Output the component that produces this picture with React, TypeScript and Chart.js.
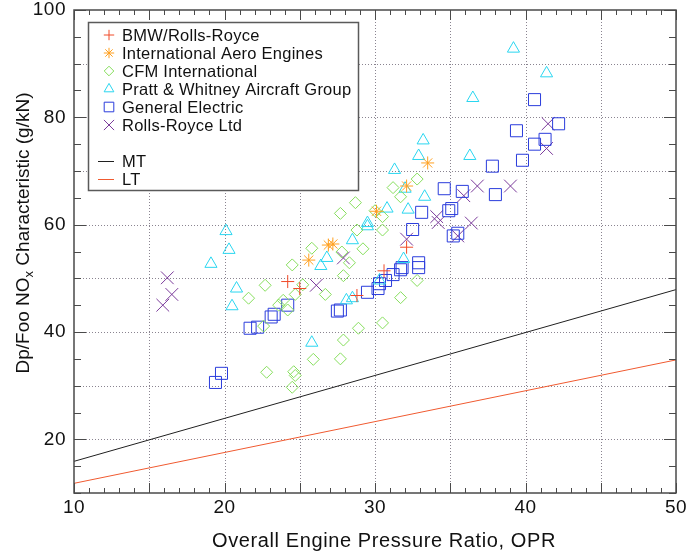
import React, { useEffect, useRef } from 'react';
import { Chart, registerables } from 'chart.js';

Chart.register(...registerables);

const FONT = '"Liberation Sans", Arial, Helvetica, sans-serif';

// ---- labels ----
const seriesNames = [
  'BMW/Rolls-Royce',
  'International Aero Engines',
  'CFM International',
  'Pratt & Whitney Aircraft Group',
  'General Electric',
  'Rolls-Royce Ltd',
];
const lineNames = ['MT', 'LT'];
const xTickLabels = ['10', '20', '30', '40', '50'];
const yTickLabels = ['20', '40', '60', '80', '100'];
const xTitle = 'Overall Engine Pressure Ratio, OPR';
const yTitleParts = ['Dp/Foo NO', 'x', ' Characteristic (g/kN)'];

// ---- data (OPR, NOx characteristic) ----
const bmwOpr = [24.2, 25.0, 28.8, 30.6, 32.1];
const bmwNox = [49.4, 48.1, 46.8, 51.4, 55.8];

const iaeOpr = [25.6, 26.9, 27.2, 30.1, 32.1, 33.5];
const iaeNox = [53.4, 56.2, 56.4, 62.5, 67.2, 71.5];

const cfmOpr = [25.8, 24.5, 22.7, 21.6, 26.7, 25.2, 24.7, 23.9, 23.6, 24.2, 22.6, 25.9, 22.8, 24.6, 24.7, 24.5,
  32.8, 31.2, 31.7, 28.7, 27.7, 30.0, 30.5, 30.5, 28.8, 27.8, 29.2, 28.3, 27.9, 31.7, 32.8, 28.9, 30.5, 27.9, 27.7];
const cfmNox = [55.6, 52.5, 48.7, 46.3, 47.0, 48.8, 47.0, 45.9, 45.0, 44.1, 41.1, 34.9, 32.5, 32.6, 31.9, 29.7,
  68.5, 66.9, 65.2, 64.1, 62.1, 62.6, 61.5, 59.0, 59.0, 54.9, 55.5, 52.9, 50.5, 46.4, 49.6, 40.7, 41.7, 38.5, 35.0];

const pwOpr = [19.1, 20.1, 20.3, 20.8, 20.5, 25.8, 26.4, 26.8, 28.5, 29.5, 29.5, 30.8, 32.2, 31.3, 32.0, 33.3,
  32.9, 33.2, 36.3, 36.5, 39.2, 41.4, 28.1, 28.5, 30.3, 31.9];
const pwNox = [52.7, 58.8, 55.3, 48.1, 44.8, 38.0, 52.3, 53.8, 57.1, 60.3, 59.7, 63.0, 62.8, 70.2, 66.7, 65.2,
  72.8, 75.7, 72.8, 83.6, 92.8, 88.2, 45.9, 46.3, 49.6, 53.6];

const geOpr = [19.4, 19.8, 21.7, 22.2, 23.1, 23.3, 24.2, 27.5, 27.7, 29.5, 30.2, 30.3, 30.7, 31.2, 31.7, 31.8,
  32.9, 32.9, 32.5, 33.1, 34.6, 34.9, 35.1, 35.2, 35.5, 35.8, 37.8, 38.0, 39.4, 39.8, 40.6, 40.6, 41.3, 42.2];
const geNox = [30.6, 32.3, 40.7, 40.9, 42.8, 43.3, 45.0, 43.9, 44.1, 47.4, 48.1, 49.0, 49.6, 50.7, 51.6, 52.0,
  52.9, 52.0, 59.1, 62.3, 66.7, 62.6, 63.0, 57.9, 58.4, 66.2, 70.9, 65.6, 77.5, 72.0, 83.3, 75.0, 75.9, 78.8];

const rrOpr = [16.2, 16.5, 15.9, 26.1, 27.9, 32.1, 34.1, 34.2, 35.5, 36.4, 35.9, 36.8, 39.0, 41.5, 41.4];
const rrNox = [50.1, 47.0, 45.0, 48.7, 53.8, 57.3, 61.5, 60.4, 57.9, 60.3, 65.4, 67.2, 67.2, 78.8, 74.2];

const lineOpr = [10, 50];
const mtNox = [15.9, 47.9];
const ltNox = [11.8, 34.8];

// ---- styles ----
const seriesColors = ['#f04a28', '#ffa020', '#86de5c', '#2ad6f0', '#2a3cdc', '#7a3a9a'];
const seriesMarkers = ['cross', 'star', 'rectRot', 'triangle', 'rect', 'crossRot'];
const seriesRadii = [6.5, 6.5, 6, 7, 8.5, 9];
const lineColors = ['#202020', '#f05a30'];

const pts = (xs: number[], ys: number[]) => xs.map((x, i) => ({ x, y: ys[i] }));

function drawMarker(ctx: CanvasRenderingContext2D, style: string, x: number, y: number, r: number) {
  ctx.beginPath();
  const d = r * Math.SQRT1_2;
  if (style === 'cross' || style === 'star') {
    ctx.moveTo(x - r, y); ctx.lineTo(x + r, y);
    ctx.moveTo(x, y - r); ctx.lineTo(x, y + r);
  }
  if (style === 'crossRot' || style === 'star') {
    ctx.moveTo(x - d, y - d); ctx.lineTo(x + d, y + d);
    ctx.moveTo(x - d, y + d); ctx.lineTo(x + d, y - d);
  }
  if (style === 'rectRot') {
    ctx.moveTo(x - r, y); ctx.lineTo(x, y - r); ctx.lineTo(x + r, y); ctx.lineTo(x, y + r); ctx.closePath();
  }
  if (style === 'rect') {
    ctx.rect(x - d, y - d, 2 * d, 2 * d);
  }
  if (style === 'triangle') {
    const a = (2 * Math.PI) / 3;
    ctx.moveTo(x, y - r);
    ctx.lineTo(x + Math.sin(a) * r, y - Math.cos(a) * r);
    ctx.lineTo(x + Math.sin(2 * a) * r, y - Math.cos(2 * a) * r);
    ctx.closePath();
  }
  ctx.stroke();
}

const setSpacing = (ctx: any, v: string) => {
  if ('letterSpacing' in ctx) ctx.letterSpacing = v;
};

const gridPlugin = {
  id: 'idlGrid',
  beforeDatasetsDraw(chart: any) {
    const { ctx, chartArea: a, scales } = chart;
    const x = scales.x, y = scales.y;
    ctx.save();
    ctx.strokeStyle = '#8a8490';
    ctx.lineWidth = 1;
    ctx.setLineDash([1, 2]);
    for (let v = 15; v < 50; v += 5) {
      const px = Math.round(x.getPixelForValue(v)) + 0.5;
      ctx.beginPath(); ctx.moveTo(px, a.top); ctx.lineTo(px, a.bottom); ctx.stroke();
    }
    for (let v = 20; v < 100; v += 10) {
      const py = Math.round(y.getPixelForValue(v)) + 0.5;
      ctx.beginPath(); ctx.moveTo(a.left, py); ctx.lineTo(a.right, py); ctx.stroke();
    }
    ctx.restore();
  },
};

const framePlugin = {
  id: 'idlFrame',
  afterDraw(chart: any) {
    const { ctx, chartArea: a, scales } = chart;
    const x = scales.x, y = scales.y;
    ctx.save();
    ctx.strokeStyle = '#4a4a4a';
    ctx.lineWidth = 1;
    const seg = (x1: number, y1: number, x2: number, y2: number) => {
      ctx.beginPath(); ctx.moveTo(x1, y1); ctx.lineTo(x2, y2); ctx.stroke();
    };
    for (let v = 10; v <= 50; v++) {
      const px = Math.round(x.getPixelForValue(v)) + 0.5;
      const len = v % 5 === 0 ? 10 : 5;
      seg(px, a.bottom, px, a.bottom - len);
      seg(px, a.top, px, a.top + len);
    }
    for (let v = 10; v <= 100; v += 5) {
      const py = Math.round(y.getPixelForValue(v)) + 0.5;
      const len = v % 20 === 0 ? 12 : 7;
      seg(a.left, py, a.left + len, py);
      seg(a.right, py, a.right - len, py);
    }
    ctx.lineWidth = 1.5;
    ctx.strokeRect(a.left, a.top, a.right - a.left, a.bottom - a.top);

    // tick labels
    ctx.fillStyle = '#111';
    ctx.font = `19px ${FONT}`;
    setSpacing(ctx, '0.5px');
    ctx.textAlign = 'center';
    ctx.textBaseline = 'middle';
    xTickLabels.forEach((t) => {
      ctx.fillText(t, x.getPixelForValue(Number(t)), a.bottom + 15);
    });
    ctx.textAlign = 'right';
    yTickLabels.forEach((t) => {
      const py = Math.max(y.getPixelForValue(Number(t)), 10);
      ctx.fillText(t, a.left - 8, py);
    });

    // axis titles
    ctx.font = `20px ${FONT}`;
    setSpacing(ctx, '0.6px');
    ctx.textAlign = 'center';
    ctx.fillText(xTitle, (a.left + a.right) / 2 + 9, a.bottom + 48);

    ctx.save();
    ctx.translate(24, 233);
    ctx.rotate(-Math.PI / 2);
    ctx.textAlign = 'left';
    setSpacing(ctx, '0px');
    const big = `19px ${FONT}`, small = `13px ${FONT}`;
    ctx.font = big; const w1 = ctx.measureText(yTitleParts[0]).width; const w3 = ctx.measureText(yTitleParts[2]).width;
    ctx.font = small; const w2 = ctx.measureText(yTitleParts[1]).width;
    let cx = -(w1 + w2 + w3) / 2;
    ctx.font = big; ctx.fillText(yTitleParts[0], cx, 0); cx += w1;
    ctx.font = small; ctx.fillText(yTitleParts[1], cx, 5); cx += w2;
    ctx.font = big; ctx.fillText(yTitleParts[2], cx, 0);
    ctx.restore();

    // legend
    const lx = 88.5, ly = 22.5, lw = 270, lh = 168;
    ctx.fillStyle = '#fff';
    ctx.fillRect(lx, ly, lw, lh);
    ctx.lineWidth = 1.5;
    ctx.strokeStyle = '#5a5a5a';
    ctx.strokeRect(lx, ly, lw, lh);
    ctx.font = `16.5px ${FONT}`;
    setSpacing(ctx, '0.25px');
    ctx.textAlign = 'left';
    ctx.textBaseline = 'middle';
    seriesNames.forEach((name, i) => {
      const ry = 35 + 18 * i;
      ctx.strokeStyle = seriesColors[i];
      ctx.lineWidth = 1;
      drawMarker(ctx, seriesMarkers[i], 109, ry, seriesRadii[i] * 0.8);
      ctx.fillStyle = '#111';
      ctx.fillText(name, 122, ry + 1);
    });
    lineNames.forEach((name, i) => {
      const ry = 35 + 18 * (7 + i);
      ctx.strokeStyle = lineColors[i];
      ctx.lineWidth = 1;
      ctx.beginPath(); ctx.moveTo(98, ry + 0.5); ctx.lineTo(114, ry + 0.5); ctx.stroke();
      ctx.fillStyle = '#111';
      ctx.fillText(name, 122, ry + 1);
    });
    ctx.restore();
  },
};

export default function App() {
  const ref = useRef<HTMLCanvasElement | null>(null);
  useEffect(() => {
    if (!ref.current) return;
    const seriesData = [
      pts(bmwOpr, bmwNox),
      pts(iaeOpr, iaeNox),
      pts(cfmOpr, cfmNox),
      pts(pwOpr, pwNox),
      pts(geOpr, geNox),
      pts(rrOpr, rrNox),
    ];
    const datasets: any[] = seriesData.map((data, i) => ({
      label: seriesNames[i],
      data,
      showLine: false,
      pointStyle: seriesMarkers[i],
      pointRadius: seriesRadii[i],
      pointBorderWidth: 1,
      borderColor: seriesColors[i],
      backgroundColor: 'rgba(0,0,0,0)',
    }));
    [mtNox, ltNox].forEach((ys, i) => {
      datasets.push({
        label: lineNames[i],
        data: pts(lineOpr, ys),
        showLine: true,
        pointRadius: 0,
        borderWidth: 1,
        borderColor: lineColors[i],
        backgroundColor: lineColors[i],
        fill: false,
      });
    });
    const chart = new Chart(ref.current, {
      type: 'scatter',
      data: { datasets },
      options: {
        responsive: false,
        maintainAspectRatio: false,
        animation: false,
        devicePixelRatio: 1,
        layout: { padding: { left: 74, top: 4, right: 12, bottom: 58 } },
        scales: {
          x: { type: 'linear', min: 10, max: 50, display: false },
          y: { type: 'linear', min: 10, max: 100, display: false },
        },
        plugins: { legend: { display: false }, tooltip: { enabled: false } },
      },
      plugins: [gridPlugin, framePlugin],
    });
    return () => chart.destroy();
  }, []);
  return (
    <div style={{ position: 'absolute', left: 0, top: 0, width: 688, height: 551, background: '#fff' }}>
      <canvas ref={ref} width={688} height={551} style={{ display: 'block', width: 688, height: 551 }} />
    </div>
  );
}
